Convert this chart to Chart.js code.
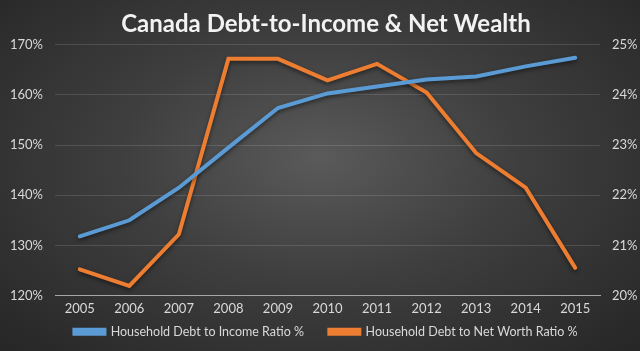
<!DOCTYPE html>
<html>
<head>
  <meta charset="utf-8" />
  <script src="https://cdn.jsdelivr.net/npm/chart.js@4.4.1/dist/chart.umd.min.js"></script>
  <style>
    body { margin:0; background:#262626; }
    #wrap { width:640px; height:351px; background:radial-gradient(ellipse at 50% 45%, #5a5a5a 0%, #3e3e3e 45%, #262626 100%); }
  </style>
</head>
<body>
<div id="wrap"><canvas id="chart" width="640" height="351"></canvas></div>
<script>
const years = ["2005","2006","2007","2008","2009","2010","2011","2012","2013","2014","2015"];
const debtToIncome = [131.8, 135.0, 141.5, 149.5, 157.4, 160.3, 161.7, 163.1, 163.7, 165.7, 167.4];
const debtToNetWorth = [20.52, 20.19, 21.22, 24.72, 24.72, 24.29, 24.62, 24.05, 22.84, 22.15, 20.55];

const BLUE = "#5b9bd5", ORANGE = "#ed7d31";
const tickColor = "#d9d9d9";
const tickFont = { family:"Lato", size:13, lineHeight:1 };

// soft shadow under the lines, like the office style
const lineShadow = {
  id:"lineShadow",
  beforeDatasetsDraw(c){ c.ctx.save(); c.ctx.shadowColor="rgba(0,0,0,0.5)"; c.ctx.shadowBlur=4; c.ctx.shadowOffsetY=2; },
  afterDatasetsDraw(c){ c.ctx.restore(); }
};

new Chart(document.getElementById("chart"), {
  type:"line",
  data:{
    labels:years,
    datasets:[
      { label:"Household Debt to Income Ratio %", data:debtToIncome, yAxisID:"y",
        borderColor:BLUE, backgroundColor:BLUE, borderWidth:4, pointRadius:0, borderCapStyle:"round" },
      { label:"Household Debt to Net Worth Ratio %", data:debtToNetWorth, yAxisID:"y1",
        borderColor:ORANGE, backgroundColor:ORANGE, borderWidth:4, pointRadius:0, borderCapStyle:"round" }
    ]
  },
  options:{
    responsive:false, animation:false,
    layout:{ padding:{ left:0, right:-12, top:0, bottom:3 } },
    plugins:{
      title:{ display:true, text:"Canada Debt-to-Income & Net Wealth", color:"#f2f2f2",
        font:{ family:"Lato", size:24, weight:"bold" }, padding:{ top:10, bottom:6 } },
      legend:{ position:"bottom",
        labels:{ color:tickColor, font:{ family:"Lato", size:12.5, lineHeight:1 }, boxWidth:30, boxHeight:4, padding:3,
          generateLabels(c){
            const items = Chart.defaults.plugins.legend.labels.generateLabels(c);
            items[0].text += "       ";
            return items;
          } } },
      tooltip:{ enabled:false }
    },
    scales:{
      x:{ offset:true,
        grid:{ display:false, drawTicks:false },
        border:{ color:"#a6a6a6", width:1 },
        ticks:{ color:tickColor, font:tickFont, padding:7 } },
      y:{ position:"left", min:120, max:170,
        afterFit(s){ s.width = 55; },
        grid:{ color:"rgba(255,255,255,0.13)", drawTicks:false },
        border:{ display:false },
        ticks:{ stepSize:10, color:tickColor, font:tickFont, padding:12, callback:v=>v+"%" } },
      y1:{ position:"right", min:20, max:25,
        afterFit(s){ s.width = 52; },
        grid:{ display:false, drawTicks:false },
        border:{ display:false },
        ticks:{ stepSize:1, color:tickColor, font:tickFont, padding:12, callback:v=>v+"%" } }
    }
  },
  plugins:[lineShadow]
});
</script>
</body>
</html>
